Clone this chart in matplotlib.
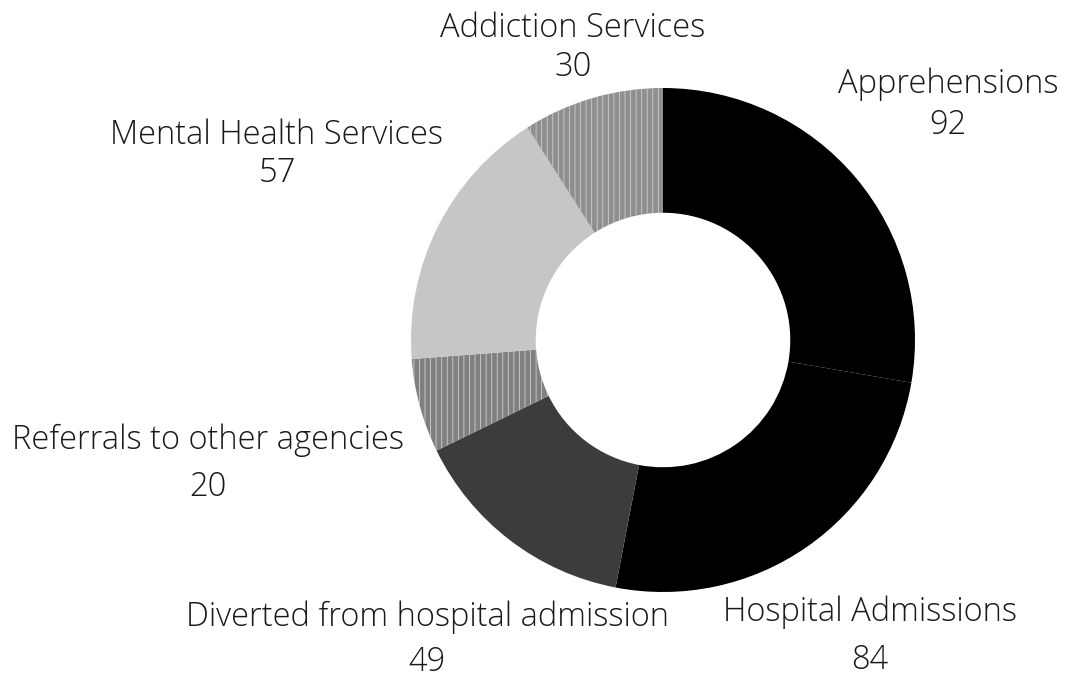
import matplotlib
matplotlib.use("Agg")
import matplotlib.pyplot as plt

categories = ["Apprehensions", "Hospital Admissions", "Diverted from hospital admission",
              "Referrals to other agencies", "Mental Health Services", "Addiction Services"]
values = [92, 84, 49, 20, 57, 30]
colors = ["#000000", "#000000", "#3c3c3c", "#808080", "#c6c6c6", "#8f8f8f"]
hatches = [None, None, None, "|||", None, "|||"]

# label anchor positions (pixels, from top-left)
label_pos = {
    "Apprehensions": (948, 84, 125),
    "Hospital Admissions": (870, 612, 660),
    "Diverted from hospital admission": (427, 617, 662),
    "Referrals to other agencies": (208, 440, 487),
    "Mental Health Services": (277, 135, 173),
    "Addiction Services": (573, 28, 67),
}

plt.rcParams['font.family'] = ['Open Sans', 'DejaVu Sans']
plt.rcParams['hatch.linewidth'] = 0.6

W, H = 1065, 678
fig = plt.figure(figsize=(W / 100, H / 100), dpi=100)
ax = fig.add_axes([0, 0, 1, 1])
cx, cy, R = 663, 340, 252
wedges, _ = ax.pie(values, colors=colors, startangle=90, counterclock=False,
                   center=(cx, H - cy), radius=R,
                   wedgeprops=dict(width=R * 0.495, linewidth=0))
for w, h in zip(wedges, hatches):
    if h:
        w.set_hatch(h)
        w.set_edgecolor("#cfcfcf")
        w.set_linewidth(0)
ax.set_xlim(0, W)
ax.set_ylim(0, H)
ax.set_aspect('equal')
ax.axis('off')

for cat, v in zip(categories, values):
    x, y1, y2 = label_pos[cat]
    ax.text(x, H - y1, cat, ha='center', va='center', fontsize=23.5,
            fontweight='light', color='#1a1a1a')
    ax.text(x, H - y2, str(v), ha='center', va='center', fontsize=23.5,
            fontweight='light', color='#1a1a1a')

fig.savefig("out.png", dpi=100)
